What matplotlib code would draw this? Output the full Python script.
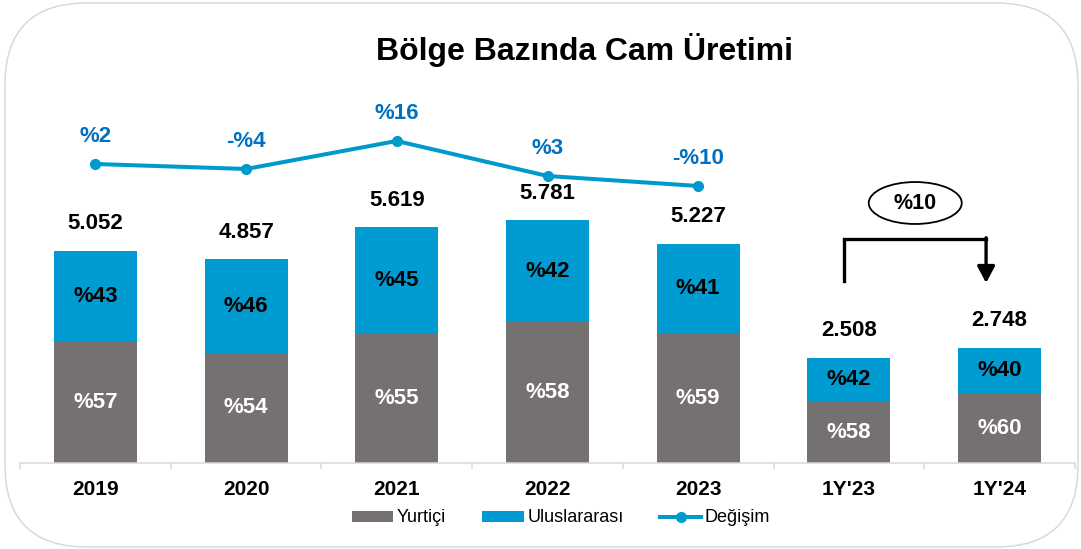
import matplotlib
matplotlib.use("Agg")
import matplotlib.pyplot as plt
from matplotlib.patches import FancyBboxPatch, Ellipse

plt.rcParams["font.family"] = ["Liberation Sans", "DejaVu Sans"]

# data
categories = ["2019", "2020", "2021", "2022", "2023", "1Y'23", "1Y'24"]
totals = [5052, 4857, 5619, 5781, 5227, 2508, 2748]
yurtici_pct = [57, 54, 55, 58, 59, 58, 60]
uluslararasi_pct = [43, 46, 45, 42, 41, 42, 40]
degisim_labels = ["%2", "-%4", "%16", "%3", "-%10"]
degisim_level = [7126, 7007, 7674, 6840, 6602]  # height of the line as drawn
period_change = "%10"

GRAY = "#767171"
BLUE = "#009CD1"
LINE = "#0099CC"
LABEL_BLUE = "#0070C0"

yurtici = [t * p / 100 for t, p in zip(totals, yurtici_pct)]
uluslararasi = [t - y for t, y in zip(totals, yurtici)]
x = list(range(len(categories)))

W, H = 1081, 549
fig = plt.figure(figsize=(W / 100, H / 100), dpi=100)

# rounded frame, drawn in pixel units
bg = fig.add_axes([0, 0, 1, 1], zorder=0)
bg.set_xlim(0, W)
bg.set_ylim(0, H)
bg.axis("off")
bg.add_patch(FancyBboxPatch((5, 2), 1073, 544, boxstyle="round,pad=0,rounding_size=82",
                            fc="white", ec="#D9D9D9", lw=1.1))

ax = fig.add_axes([20 / W, (H - 463) / H, 1055 / W, 432.2 / H], zorder=1)
ax.set_facecolor("none")
ax.set_xlim(-0.5, len(categories) - 0.5)
ax.set_ylim(0, 10300)

b1 = ax.bar(x, yurtici, width=0.55, color=GRAY, label="Yurtiçi", zorder=2)
b2 = ax.bar(x, uluslararasi, width=0.55, bottom=yurtici, color=BLUE,
            label="Uluslararası", zorder=2)

for i in x:
    ax.text(i, yurtici[i] / 2, f"%{yurtici_pct[i]}", ha="center", va="center",
            color="white", fontsize=16, fontweight="bold", zorder=3)
    ax.text(i, yurtici[i] + uluslararasi[i] / 2, f"%{uluslararasi_pct[i]}",
            ha="center", va="center", color="black", fontsize=16,
            fontweight="bold", zorder=3)
    ax.annotate(f"{totals[i]:,}".replace(",", "."), (i, totals[i]),
                xytext=(0, 19.5), textcoords="offset points", ha="center",
                va="center", fontsize=16, fontweight="bold")

lx = x[:len(degisim_level)]
ln, = ax.plot(lx, degisim_level, color=LINE, lw=2.9, marker="o", ms=7,
              label="Değişim", zorder=3)
for i, lab in enumerate(degisim_labels):
    ax.annotate(lab, (lx[i], degisim_level[i]), xytext=(0, 19.5),
                textcoords="offset points", ha="center", va="center",
                fontsize=16, fontweight="bold", color=LABEL_BLUE)

# period comparison bracket
x_left, x_right = x[5] - 0.03, x[6] - 0.09
y_top = 5338
ax.plot([x_left, x_left, x_right], [4337, y_top, y_top], color="black",
        lw=2.4, solid_joinstyle="miter", zorder=3)
ax.annotate("", xy=(x_right, 4290), xytext=(x_right, y_top + 30),
            arrowprops=dict(arrowstyle="-|>,head_length=1.0,head_width=0.53",
                            color="black", lw=2.4, shrinkA=0, shrinkB=0))
ax.add_patch(Ellipse((5.44, 6196), 0.617, 1000, fc="white", ec="black", lw=1.3,
                     zorder=3))
ax.text(5.44, 6196, period_change, ha="center", va="center", fontsize=15.5,
        fontweight="bold", zorder=4)

# axes styling
for s in ["top", "right", "left"]:
    ax.spines[s].set_visible(False)
ax.spines["bottom"].set_color("#D9D9D9")
ax.spines["bottom"].set_linewidth(1.1)
ax.set_yticks([])
ax.set_xticks(x)
ax.set_xticklabels(categories, fontsize=15, fontweight="bold")
ax.set_xticks([i - 0.5 for i in range(len(categories) + 1)], minor=True)
ax.tick_params(axis="x", which="major", length=0, pad=12)
ax.tick_params(axis="x", which="minor", length=4, color="#D9D9D9", width=1.1)

fig.text(585 / W, 1 - 50 / H, "Bölge Bazında Cam Üretimi", ha="center",
         va="center", fontsize=23, fontweight="bold")

fig.legend(handles=[b1, b2, ln], loc="center", bbox_to_anchor=(561 / W, 31 / H),
           ncol=3, frameon=False, fontsize=13, handlelength=2.3,
           handleheight=0.55, handletextpad=0.2, columnspacing=2.0,
           borderpad=0)

fig.savefig("out.png", dpi=100)
